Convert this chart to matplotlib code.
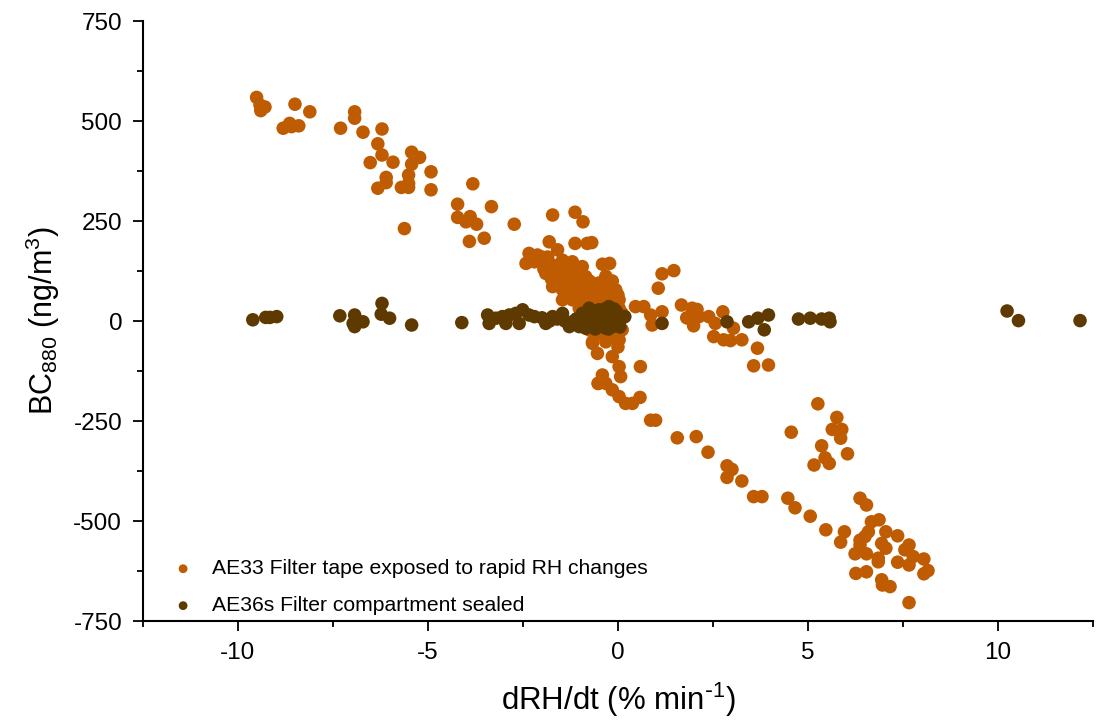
import numpy as np
import matplotlib
matplotlib.use('Agg')
import matplotlib.pyplot as plt

# AE33: filter tape exposed to rapid RH changes
ae33_x = [-9.51, -9.42, -9.29, -9.40, -8.50, -8.11, -8.81, -8.64, -8.40, -8.59,
          -6.93, -6.93, -7.30, -6.71, -6.21, -6.32, -6.21, -6.52, -5.92, -5.43,
          -5.22, -5.43, -4.92, -6.10, -6.10, -6.32, -5.51, -5.51, -5.70, -5.51,
          -4.92, -5.62, -3.82, -4.22, -3.33, -4.22, -4.00, -3.89, -3.72, -3.91,
          -3.52, -2.73,
          -1.72, -1.13, -0.92, -1.81, -1.59, -1.13, -0.81, -0.69, -0.41, -0.22,
          -0.32, -2.34, -2.12, -2.42, -2.20, -1.90, -1.72, -1.46, -1.20, -0.94,
          -1.90, -1.64, -1.37, -1.11, -0.85, -0.67, -1.72, -1.46, -1.20, -0.94,
          -0.59, -0.32, -0.06, -1.46, -1.20, -0.94, -0.67, -0.32, 0.03, -1.02,
          -0.76, 0.03, 0.11, -1.55, -1.30, -1.05, -0.80, -0.55, -1.75, -1.35,
          -1.00, -0.45, -0.20, -0.10, -2.00, -1.60,
          -2.25, -2.05, -1.95, -1.85, -1.75, -1.65, -1.55, -1.50, -1.40, -1.35,
          -1.30, -1.25, -1.15, -1.10, -1.05, -1.00, -0.95, -0.90, -0.85, -0.80,
          -0.75, -0.70, -0.65, -0.60, -0.55, -0.50, -0.45, -0.40, -0.35, -0.30,
          -0.25, -0.20, -0.15, -0.10, -0.05, 0.00, 0.05, 0.10, -0.20, 0.00,
          -0.40, -0.60, -0.90,
          -0.76, -0.50, -0.15, 0.11, -0.67, -0.32, 0.03, -0.54, -0.15, 0.03,
          0.59, -0.67, -0.52, 0.07, -0.41, -0.52, -0.32, -0.15, 0.03, 0.20,
          0.38, 0.58, 0.86, 0.99,
          1.16, 1.47, 1.06, 1.67, 1.81, 0.46, 0.68, 0.86, 0.90, 1.16,
          1.95, 2.08, 1.86, 1.99, 2.13, 2.39, 2.56, 2.52, 2.78, 2.96,
          3.26, 2.76, 3.04, 3.67, 3.57, 3.96,
          1.56, 2.06, 2.37, 2.87, 3.00, 2.87, 3.26, 3.57, 3.79, 4.47,
          4.56, 4.66, 5.06, 5.47, 5.96, 5.86,
          5.26, 5.76, 5.64, 5.89, 5.86, 5.36, 5.45, 5.56, 5.16, 6.04,
          6.37, 6.54, 6.67, 6.87, 6.59, 6.50, 6.37, 6.37, 7.05, 7.36,
          6.94, 7.05, 6.24, 6.54, 6.85, 6.85, 7.55, 7.66, 7.77, 7.66,
          7.36, 8.05, 8.16, 8.05, 6.26, 6.54, 6.94, 6.96, 7.16, 7.66]
ae33_y = [559, 540, 535, 526, 542, 523, 482, 494, 488, 486,
          523, 507, 482, 472, 480, 443, 415, 396, 397, 422,
          409, 392, 373, 359, 346, 332, 365, 344, 334, 334,
          328, 231, 343, 292, 286, 259, 248, 261, 242, 199,
          207, 242,
          265, 272, 248, 198, 178, 194, 194, 196, 142, 144,
          112, 169, 165, 144, 148, 152, 140, 152, 148, 136,
          119, 111, 119, 102, 111, 94, 86, 78, 82, 73,
          73, 78, 78, 53, 53, 44, 48, 53, 53, 32,
          32, 32, 7, 130, 125, 95, 60, 40, 105, 90,
          65, 20, 10, 60, 160, 135,
          158, 150, 130, 160, 120, 135, 105, 140, 95, 130,
          70, 110, 125, 85, 60, 100, 120, 90, 50, 75,
          100, 65, 35, 85, 55, 95, 40, 70, 25, 90,
          60, 35, 100, -5, 25, 65, -20, 20, -40, -65,
          -30, -10, 10,
          -22, -31, -31, -22, -52, -52, -47, -81, -89, -114,
          -114, -56, -156, -139, -135, -156, -156, -172, -189, -206,
          -206, -191, -248, -248,
          118, 126, 82, 40, 8, 36, 36, 15, -10, 23,
          32, 29, 7, -12, 11, 11, -6, -39, -47, -49,
          -47, 23, -18, -68, -112, -110,
          -292, -289, -328, -362, -371, -391, -400, -439, -439, -443,
          -278, -467, -488, -522, -527, -553,
          -207, -241, -271, -271, -293, -312, -342, -356, -360, -332,
          -443, -460, -502, -497, -527, -539, -548, -560, -527, -537,
          -556, -568, -582, -582, -593, -602, -572, -560, -589, -610,
          -603, -595, -624, -632, -631, -627, -647, -660, -664, -704]

# AE36s: filter compartment sealed
ae36_x = [-9.61, -9.27, -8.98, -9.16, -7.32, -6.93, -6.97, -6.71, -6.93, -6.21,
          -6.23, -6.01, -5.43, -4.11, -3.43, -3.39, -3.21, -3.04, -2.86, -2.69,
          -2.51, -2.34, -2.20, -2.95, -2.60, -1.90, -1.72, -1.46, -1.20, -1.02,
          -1.28, -0.94, -0.76, -0.50, -0.32, -0.24, -0.06, -0.15, -0.50, -0.76,
          -0.85, -0.32, 0.16, 0.18, 1.16, 2.87, 3.44, 3.68, 3.96, 3.85,
          4.75, 5.06, 5.36, 5.56, 5.58, 10.24, 10.54, 12.16,
          -0.90, -0.80, -0.70, -0.65, -0.60, -0.55, -0.45, -0.40, -0.35, -0.30,
          -0.25, -0.20, -0.15, -0.10, -0.05, 0.00, 0.05, -0.10, -0.40, -0.60,
          -1.60, -1.40, -1.10, -2.00, -1.80]
ae36_y = [3, 9, 11, 9, 13, 15, -6, -2, -14, 44,
          17, 7, -10, -4, 15, -6, 7, 11, 15, 19,
          28, 15, 11, -6, -6, -6, 11, 19, -2, -14,
          -14, 19, 32, 28, 15, 36, 11, -14, -14, -6,
          -18, -18, 11, 11, -6, -2, -2, 7, 15, -22,
          5, 7, 5, 7, -2, 25, 1, 1,
          5, 20, -5, 15, -20, 5, 20, -10, 30, 0,
          -20, 20, 5, -10, 25, 0, -15, 30, 10, 25,
          5, 0, 5, 8, 0]

plt.rcParams['font.family'] = ['Liberation Sans', 'DejaVu Sans']
plt.rcParams['mathtext.default'] = 'regular'
plt.rcParams['axes.unicode_minus'] = False

fig = plt.figure(figsize=(11.05, 7.27), dpi=100)
ax = fig.add_axes([0.1294, 0.1458, 0.8597, 0.8253])

ax.scatter(ae33_x, ae33_y, s=95, color='#BF5B00', edgecolors='none',
           label='AE33 Filter tape exposed to rapid RH changes', zorder=2)
ax.scatter(ae36_x, ae36_y, s=95, color='#5E3A00', edgecolors='none',
           label='AE36s Filter compartment sealed', zorder=3)

ax.set_xlim(-12.5, 12.5)
ax.set_ylim(-750, 750)
ax.set_xticks([-10, -5, 0, 5, 10])
ax.set_xticks([-12.5, -7.5, -2.5, 2.5, 7.5, 12.5], minor=True)
ax.set_yticks(np.arange(-750, 751, 250))
ax.set_yticks(np.arange(-625, 750, 250), minor=True)

for s in ['top', 'right']:
    ax.spines[s].set_visible(False)
for s in ['left', 'bottom']:
    ax.spines[s].set_linewidth(1.5)
ax.tick_params(which='major', direction='out', length=7, width=1.3,
               labelsize=17.5, pad=8)
ax.tick_params(which='minor', direction='out', length=4, width=1.3)

ax.set_xlabel(r'dRH/dt (% min$^{\text{-}1}$)', fontsize=22.5, labelpad=12)
ax.set_ylabel('BC$_{880}$ (ng/m$^3$)', fontsize=22, labelpad=8)

ax.legend(loc='lower left', bbox_to_anchor=(0.0, -0.022), frameon=False,
          fontsize=15.2, markerscale=0.65, handletextpad=0.35,
          labelspacing=0.85)

fig.savefig('out.png', dpi=100)
